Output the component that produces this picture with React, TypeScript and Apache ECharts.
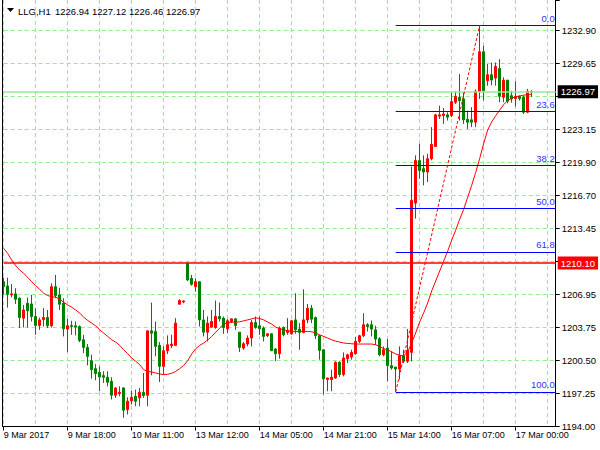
import React, { useEffect, useRef } from "react";
import * as echarts from "echarts";

// ---- data ----
const symbolName = "LLG,H1";
const xLabels = ["9 Mar 2017", "9 Mar 18:00", "10 Mar 11:00", "13 Mar 12:00", "14 Mar 05:00", "14 Mar 21:00", "15 Mar 14:00", "16 Mar 07:00", "17 Mar 00:00"];
const yTickLabels = ["1194.00", "1197.25", "1200.50", "1203.75", "1206.95", "", "1213.45", "1216.70", "1219.90", "1223.15", "", "1229.65", "1232.90"];

const opens = [
  1208.26, 1207.84, 1206.96, 1207.06, 1206.63, 1204.66, 1206.14, 1206.07, 1204.83, 1203.95,
  1204.54, 1204.73, 1203.92, 1207.77, 1206.96, 1206.14, 1203.59, 1203.95, 1203.92, 1203.85,
  1202.54, 1201.79, 1200.48, 1199.70, 1199.34, 1199.01, 1198.85, 1198.45, 1197.08, 1197.24,
  1197.80, 1195.67, 1196.53, 1196.98, 1196.82, 1197.37, 1197.08, 1203.42, 1203.36, 1201.99,
  1199.93, 1201.46, 1201.95, 1201.98, 1206.04, 1206.27, 1210.10, 1208.59, 1207.77, 1208.26,
  1204.50, 1203.29, 1203.78, 1203.75, 1204.83, 1204.67, 1203.62, 1204.34, 1204.60, 1203.29,
  1201.72, 1202.12, 1202.71, 1204.24, 1203.92, 1203.69, 1202.94, 1203.13, 1201.63, 1201.17,
  1203.75, 1203.26, 1203.13, 1204.50, 1203.59, 1203.26, 1204.50, 1205.65, 1204.73, 1202.94,
  1201.56, 1198.62, 1198.62, 1198.78, 1200.32, 1199.11, 1200.68, 1200.84, 1201.17, 1202.38,
  1202.94, 1204.02, 1204.02, 1203.52, 1202.64, 1201.07, 1201.72, 1199.99, 1199.86, 1199.66,
  1200.97, 1200.42, 1201.30, 1216.00, 1220.20, 1219.39, 1219.06, 1220.37, 1221.58, 1224.56,
  1224.62, 1224.69, 1224.62, 1225.93, 1226.42, 1226.26, 1224.26, 1224.20, 1223.97, 1227.01,
  1230.90, 1228.05, 1228.64, 1228.31, 1229.26, 1226.42, 1228.10, 1226.58, 1226.30, 1226.50,
  1226.42, 1224.95, 1226.94,
];
const closes = [
  1207.77, 1207.02, 1207.06, 1206.53, 1204.73, 1205.48, 1205.39, 1204.83, 1203.95, 1204.50,
  1204.73, 1203.92, 1207.77, 1206.89, 1206.04, 1203.62, 1203.92, 1203.85, 1203.79, 1202.48,
  1201.79, 1200.91, 1199.60, 1199.21, 1198.88, 1198.85, 1198.36, 1197.08, 1197.80, 1197.37,
  1195.61, 1196.49, 1196.88, 1196.49, 1197.37, 1197.05, 1203.42, 1203.19, 1201.89, 1199.93,
  1201.46, 1202.05, 1202.12, 1204.18, 1206.40, 1206.37, 1208.43, 1208.00, 1208.26, 1204.50,
  1203.29, 1204.18, 1204.34, 1204.83, 1204.60, 1203.75, 1204.41, 1204.60, 1203.95, 1201.79,
  1202.15, 1202.71, 1204.24, 1203.75, 1203.62, 1202.87, 1203.13, 1201.46, 1201.17, 1203.69,
  1203.03, 1203.46, 1204.41, 1203.52, 1203.26, 1204.50, 1205.65, 1204.57, 1202.94, 1201.50,
  1198.69, 1198.78, 1198.85, 1200.32, 1199.11, 1200.75, 1201.07, 1201.30, 1202.38, 1202.94,
  1204.02, 1203.85, 1203.59, 1202.61, 1201.07, 1201.56, 1199.99, 1199.76, 1199.66, 1200.97,
  1200.42, 1201.50, 1216.28, 1220.20, 1219.22, 1219.06, 1220.37, 1221.78, 1224.69, 1224.69,
  1224.78, 1224.46, 1225.99, 1226.52, 1226.09, 1224.20, 1223.97, 1223.97, 1227.01, 1230.90,
  1227.07, 1228.64, 1228.12, 1229.46, 1226.52, 1228.10, 1226.03, 1226.26, 1226.50, 1226.30,
  1224.95, 1227.01, 1226.97,
];
const lows = [
  1207.00, 1205.71, 1206.73, 1206.07, 1203.69, 1203.75, 1203.75, 1204.34, 1203.03, 1203.52,
  1203.85, 1203.69, 1203.75, 1206.63, 1205.48, 1202.87, 1201.33, 1203.03, 1202.97, 1202.31,
  1201.23, 1200.02, 1198.72, 1198.55, 1197.47, 1198.29, 1197.96, 1196.66, 1196.82, 1196.98,
  1194.86, 1195.18, 1196.17, 1196.00, 1196.00, 1196.82, 1196.00, 1199.04, 1200.91, 1198.39,
  1199.11, 1201.13, 1201.72, 1201.98, 1206.04, 1206.14, 1208.33, 1207.87, 1207.28, 1203.85,
  1202.87, 1202.38, 1203.75, 1203.62, 1204.34, 1203.13, 1203.19, 1204.18, 1203.52, 1201.33,
  1201.56, 1201.89, 1201.89, 1203.62, 1203.03, 1202.38, 1202.81, 1201.46, 1200.42, 1200.68,
  1202.87, 1203.03, 1203.03, 1203.13, 1201.56, 1203.19, 1204.18, 1204.18, 1202.61, 1200.58,
  1197.15, 1197.47, 1197.47, 1198.69, 1198.88, 1198.94, 1200.25, 1200.58, 1201.07, 1202.22,
  1202.81, 1203.36, 1202.87, 1202.05, 1200.91, 1200.91, 1198.45, 1199.60, 1197.40, 1198.62,
  1200.25, 1200.25, 1200.42, 1214.48, 1218.41, 1217.75, 1218.08, 1220.21, 1221.58, 1224.29,
  1223.80, 1224.13, 1224.46, 1225.76, 1224.13, 1223.80, 1223.31, 1223.48, 1223.48, 1226.26,
  1226.10, 1227.56, 1227.60, 1227.56, 1225.93, 1225.93, 1225.83, 1225.90, 1225.50, 1226.10,
  1224.78, 1224.85, 1226.46,
];
const highs = [
  1208.66, 1208.66, 1208.03, 1207.61, 1206.73, 1205.97, 1206.70, 1206.96, 1205.65, 1204.73,
  1205.65, 1205.48, 1208.10, 1208.92, 1207.67, 1206.63, 1204.60, 1204.41, 1204.34, 1203.95,
  1203.03, 1202.12, 1201.07, 1200.15, 1199.93, 1199.44, 1199.44, 1198.85, 1197.86, 1197.96,
  1197.86, 1196.88, 1197.54, 1197.63, 1197.80, 1199.27, 1203.42, 1206.20, 1204.34, 1202.31,
  1201.89, 1202.97, 1203.03, 1204.67, 1206.53, 1206.40, 1210.10, 1208.92, 1208.59, 1208.26,
  1205.48, 1204.83, 1205.48, 1206.40, 1206.20, 1204.83, 1204.57, 1204.60, 1204.67, 1203.29,
  1202.31, 1202.97, 1204.50, 1204.83, 1204.83, 1203.85, 1203.19, 1203.19, 1201.72, 1203.85,
  1203.85, 1204.67, 1204.50, 1207.12, 1204.18, 1207.51, 1206.07, 1205.97, 1204.83, 1203.03,
  1201.56, 1198.78, 1199.60, 1200.42, 1200.42, 1201.30, 1201.17, 1201.56, 1202.81, 1203.03,
  1205.16, 1204.18, 1204.44, 1203.92, 1202.81, 1201.89, 1202.61, 1201.40, 1199.86, 1201.89,
  1201.56, 1203.60, 1219.60, 1220.70, 1221.84, 1220.70, 1220.86, 1223.48, 1224.78, 1225.60,
  1225.37, 1224.94, 1226.91, 1227.01, 1228.71, 1226.91, 1225.10, 1225.44, 1227.20, 1233.52,
  1231.50, 1229.69, 1229.85, 1229.85, 1230.18, 1228.38, 1228.15, 1227.05, 1228.00, 1226.60,
  1226.58, 1227.24, 1227.12,
];
const maValues = [
  1211.53, 1211.04, 1210.39, 1209.83, 1209.41, 1209.08, 1208.69, 1208.26, 1207.87, 1207.51,
  1207.12, 1206.89, 1206.79, 1206.73, 1206.53, 1206.24, 1205.97, 1205.75, 1205.48, 1205.16,
  1204.77, 1204.44, 1204.18, 1203.91, 1203.52, 1203.20, 1202.87, 1202.54, 1202.31, 1201.99,
  1201.56, 1201.17, 1200.74, 1200.42, 1200.09, 1199.60, 1199.43, 1199.37, 1199.27, 1199.17,
  1199.11, 1199.14, 1199.24, 1199.43, 1199.70, 1200.02, 1200.48, 1201.14, 1201.66, 1201.99,
  1202.22, 1202.51, 1202.87, 1203.29, 1203.69, 1204.08, 1204.24, 1204.27, 1204.27, 1204.31,
  1204.41, 1204.50, 1204.60, 1204.70, 1204.63, 1204.50, 1204.28, 1204.08, 1203.79, 1203.62,
  1203.52, 1203.43, 1203.36, 1203.36, 1203.36, 1203.36, 1203.36, 1203.33, 1203.20, 1203.03,
  1202.87, 1202.71, 1202.54, 1202.41, 1202.31, 1202.22, 1202.18, 1202.15, 1202.12, 1202.12,
  1202.12, 1202.12, 1202.12, 1202.05, 1201.89, 1201.66, 1201.55, 1201.35, 1201.15, 1201.02,
  1200.97, 1201.36, 1202.24, 1203.22, 1204.30, 1205.19, 1206.17, 1207.35, 1208.33, 1209.31,
  1210.29, 1211.27, 1212.35, 1213.33, 1214.41, 1215.39, 1216.57, 1217.75, 1219.02, 1220.40,
  1221.87, 1223.20, 1224.00, 1224.60, 1225.15, 1225.70, 1226.10, 1226.33, 1226.48, 1226.55,
  1226.63, 1226.68, 1226.73,
];

const resistanceLevel = 1210.1;
const fibLowBar = 98;
const fibHighBar = 119;
const fibLow = 1197.4;
const fibHigh = 1233.52;
const fibRatios = [0, 23.6, 38.2, 50.0, 61.8, 100.0];
const categoryCount = 139;

const FONT = "'Liberation Sans', Arial, sans-serif";

export default function App() {
  const ref = useRef<HTMLDivElement>(null);

  useEffect(() => {
    if (!ref.current) return;
    const chart = echarts.init(ref.current, undefined, { renderer: "svg" });

    const cats = Array.from({ length: categoryCount }, (_, i) => String(i));
    const candles = opens.map((o, i) => [o, closes[i], lows[i], highs[i]]);
    const last = opens.length - 1;
    const lastClose = closes[last];
    const headerValues = [opens[last], highs[last], lows[last], closes[last]].map((v) => v.toFixed(2)).join(" ");

    const fibLines = fibRatios.map((r) => {
      const lvl = fibHigh - ((fibHigh - fibLow) * r) / 100;
      return [
        {
          coord: [fibLowBar, lvl],
          lineStyle: { color: "#0000ff", width: 1, type: "solid" },
          label: {
            show: true,
            position: "insideEndTop",
            formatter: r.toFixed(1),
            color: "#3030ff",
            fontSize: 9.5,
            fontFamily: FONT,
            distance: [1, 2],
          },
        },
        { coord: [categoryCount - 1, lvl] },
      ];
    });

    const priceLabel = (bg: string) => ({
      show: true,
      position: "end",
      formatter: (p: any) => Number(p.value).toFixed(2),
      backgroundColor: bg,
      color: "#ffffff",
      fontSize: 9.5,
      fontFamily: FONT,
      padding: [2, 3, 1, 3],
      distance: 2,
    });

    const option: any = {
      animation: false,
      backgroundColor: "#ffffff",
      grid: { left: 3.7, right: 44.3, top: 0, bottom: 23.5 },
      xAxis: {
        type: "category",
        data: cats,
        boundaryGap: false,
        axisLine: { show: true, lineStyle: { color: "#000000", width: 1 } },
        axisTick: { show: true, interval: 15, length: 4, lineStyle: { color: "#000000" } },
        axisLabel: {
          interval: 15,
          formatter: (_v: string, idx: number) => (idx % 16 === 0 && xLabels[idx / 16]) || "",
          align: "left",
          margin: 4,
          fontSize: 9,
          fontFamily: FONT,
          color: "#000000",
        },
        splitLine: { show: true, interval: 7, lineStyle: { color: "#90ee90", type: [4, 3], width: 1 } },
      },
      yAxis: {
        type: "value",
        position: "right",
        min: 1194,
        max: 1236.0,
        interval: 3.25,
        axisLine: { show: true, lineStyle: { color: "#000000", width: 1 } },
        axisTick: { show: true, length: 4, lineStyle: { color: "#000000" } },
        axisLabel: {
          formatter: (v: number) => {
            const k = (v - 1194) / 3.25;
            if (Math.abs(k - Math.round(k)) > 0.01) return "";
            return yTickLabels[Math.round(k)] || "";
          },
          margin: 6,
          fontSize: 9.5,
          fontFamily: FONT,
          color: "#000000",
        },
        splitLine: {
          show: true,
          showMaxLine: false,
          lineStyle: { color: "#90ee90", type: [4, 3], width: 1 },
        },
      },
      series: [
        {
          type: "candlestick",
          data: candles,
          barWidth: 2,
          clip: false,
          itemStyle: {
            color: "#ff0000",
            color0: "#008000",
            borderColor: "#ff0000",
            borderColor0: "#008000",
            borderWidth: 1,
          },
          z: 3,
        },
        {
          type: "line",
          data: maValues,
          showSymbol: false,
          symbol: "none",
          lineStyle: { color: "#ff0000", width: 1 },
          z: 4,
        },
        {
          type: "line",
          data: [
            [fibLowBar, fibLow],
            [fibHighBar, fibHigh],
          ],
          symbol: "none",
          lineStyle: { color: "#ff0000", width: 1, type: [3, 2] },
          z: 5,
          markLine: {
            silent: true,
            symbol: ["none", "none"],
            animation: false,
            data: [
              ...fibLines,
              {
                yAxis: resistanceLevel,
                lineStyle: { color: "#ff0000", width: 1.5, type: "solid" },
                label: priceLabel("#ff0000"),
              },
              {
                yAxis: lastClose,
                lineStyle: { color: "#90ee90", width: 1.5, type: "solid" },
                label: priceLabel("#000000"),
              },
            ],
          },
        },
      ],
      graphic: [
        {
          type: "line",
          shape: { x1: 2.5, y1: 0, x2: 2.5, y2: 427 },
          style: { stroke: "#000000", lineWidth: 1 },
          z: 100,
        },
        {
          type: "polygon",
          shape: { points: [[7, 8], [14, 8], [10.5, 12]] },
          style: { fill: "#000000" },
          z: 100,
        },
        {
          type: "text",
          x: 18,
          y: 11,
          style: { text: symbolName, font: `9.5px ${FONT}`, fill: "#000000", textVerticalAlign: "middle" },
          z: 100,
        },
        {
          type: "text",
          x: 55,
          y: 11,
          style: { text: headerValues, font: `9.5px ${FONT}`, fill: "#000000", textVerticalAlign: "middle" },
          z: 100,
        },
      ],
    };

    chart.setOption(option);
    return () => chart.dispose();
  }, []);

  return (
    <div
      ref={ref}
      style={{ position: "fixed", left: 0, top: 0, width: 600, height: 450, background: "#ffffff" }}
    />
  );
}
